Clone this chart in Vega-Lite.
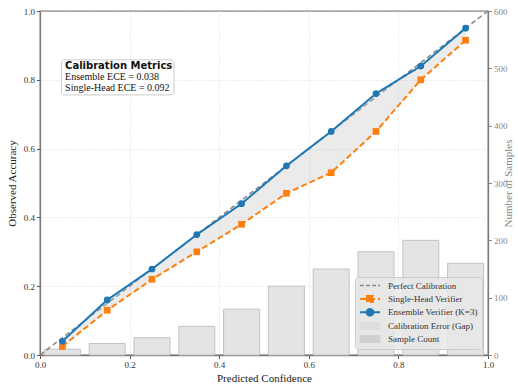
{
  "$schema": "https://vega.github.io/schema/vega-lite/v6.json",
  "width": 448,
  "height": 344,
  "autosize": {"type": "none"},
  "padding": {"left": 40, "top": 11, "right": 30, "bottom": 30},
  "background": "white",
  "config": {
    "font": "Liberation Serif",
    "view": {"stroke": "#7a7a7a", "strokeWidth": 1.3},
    "axis": {
      "labelFont": "Liberation Serif",
      "labelFontSize": 9,
      "labelFlush": false,
      "titleFont": "Liberation Serif",
      "titleFontSize": 11,
      "titleFontWeight": "normal",
      "domainColor": "#7a7a7a",
      "domainWidth": 1.3,
      "tickColor": "#555555",
      "tickSize": 3.5,
      "labelColor": "#333333",
      "titleColor": "#222222",
      "gridColor": "#d0d0d0",
      "gridDash": [1, 2],
      "gridWidth": 0.8
    },
    "legend": {
      "orient": "bottom-right",
      "offset": 6,
      "padding": 4,
      "labelFont": "Liberation Serif",
      "labelFontSize": 9,
      "labelColor": "#333333",
      "fillColor": "rgba(232,232,232,0.85)",
      "strokeColor": "#cccccc",
      "cornerRadius": 3,
      "symbolSize": 49,
      "symbolStrokeWidth": 1.5,
      "clipHeight": 9,
      "rowPadding": 3.4,
      "labelOffset": 20
    }
  },
  "datasets": {
    "calib": [
      {"conf": 0.05, "ensemble": 0.04, "single": 0.025, "count": 10},
      {"conf": 0.15, "ensemble": 0.16, "single": 0.13, "count": 20},
      {"conf": 0.25, "ensemble": 0.25, "single": 0.22, "count": 30},
      {"conf": 0.35, "ensemble": 0.35, "single": 0.30, "count": 50},
      {"conf": 0.45, "ensemble": 0.44, "single": 0.38, "count": 80},
      {"conf": 0.55, "ensemble": 0.55, "single": 0.47, "count": 120},
      {"conf": 0.65, "ensemble": 0.65, "single": 0.53, "count": 150},
      {"conf": 0.75, "ensemble": 0.76, "single": 0.65, "count": 180},
      {"conf": 0.85, "ensemble": 0.84, "single": 0.80, "count": 200},
      {"conf": 0.95, "ensemble": 0.95, "single": 0.915, "count": 160}
    ],
    "diag": [{"p": 0}, {"p": 1}],
    "note": [{"title": "Calibration Metrics", "ens": "Ensemble ECE = 0.038", "single": "Single-Head ECE = 0.092"}]
  },
  "layer": [
    {
      "data": {"name": "calib"},
      "mark": {"type": "bar", "width": 36, "fill": "#e4e4e4", "stroke": "#c2c2c2", "strokeWidth": 1},
      "encoding": {
        "x": {
          "field": "conf", "type": "quantitative",
          "scale": {"domain": [0, 1], "nice": false, "zero": false, "padding": 0},
          "axis": {"title": "Predicted Confidence", "values": [0, 0.2, 0.4, 0.6, 0.8, 1.0], "format": ".1f", "grid": true, "titlePadding": 3, "labelPadding": 2}
        },
        "y": {
          "field": "count", "type": "quantitative",
          "scale": {"domain": [0, 600], "nice": false},
          "axis": {"orient": "right", "title": "Number of Samples", "titleAngle": 270, "values": [0, 100, 200, 300, 400, 500, 600], "grid": false, "labelColor": "#888888", "titleColor": "#888888", "tickColor": "#888888", "titlePadding": 6, "labelPadding": 2}
        }
      }
    },
    {
      "layer": [
        {
          "data": {"name": "diag"},
          "mark": {"type": "line", "stroke": "#888888", "strokeDash": [5, 3], "strokeWidth": 1.5},
          "encoding": {
            "x": {"field": "p", "type": "quantitative"},
            "y": {
              "field": "p", "type": "quantitative",
              "scale": {"domain": [0, 1], "nice": false},
              "axis": {"orient": "left", "title": "Observed Accuracy", "values": [0, 0.2, 0.4, 0.6, 0.8, 1.0], "format": ".1f", "grid": true, "titlePadding": 6, "labelPadding": 2}
            }
          }
        },
        {
          "data": {"name": "calib"},
          "mark": {"type": "area", "fill": "#bdbdbd", "opacity": 0.3},
          "encoding": {
            "x": {"field": "conf", "type": "quantitative"},
            "y": {"field": "single", "type": "quantitative"},
            "y2": {"field": "ensemble"}
          }
        },
        {
          "data": {"name": "calib"},
          "transform": [{"fold": ["single", "ensemble"], "as": ["series", "acc"]}],
          "mark": {"type": "line", "strokeWidth": 2},
          "encoding": {
            "x": {"field": "conf", "type": "quantitative"},
            "y": {"field": "acc", "type": "quantitative"},
            "color": {
              "field": "series", "type": "nominal",
              "scale": {"domain": ["perfect", "single", "ensemble", "gap", "count"], "range": ["#888888", "#ff7f0e", "#1f77b4", "#dedede", "#d0d0d0"]},
              "legend": {
                "title": null,
                "labelExpr": "datum.value == 'perfect' ? 'Perfect Calibration' : datum.value == 'single' ? 'Single-Head Verifier' : datum.value == 'ensemble' ? 'Ensemble Verifier (K=3)' : datum.value == 'gap' ? 'Calibration Error (Gap)' : 'Sample Count'",
                "encode": {
                  "symbols": {
                    "update": {
                      "shape": {"signal": "datum.value == 'single' ? 'M-1,0H4.71M1,-0.857H2.714V0.857H1Z' : datum.value == 'ensemble' ? 'M-1,0H4.71M2.8,0A0.943,0.943,0,1,1,0.914,0A0.943,0.943,0,1,1,2.8,0Z' : datum.value == 'perfect' ? 'M-1,0H4.71' : 'M-1,-1H4.71V1H-1Z'"},
                      "fill": {"signal": "datum.value == 'single' ? '#ff7f0e' : datum.value == 'ensemble' ? '#1f77b4' : datum.value == 'gap' ? '#e2e2e2' : datum.value == 'count' ? '#d3d3d3' : 'transparent'"},
                      "stroke": {"signal": "datum.value == 'single' ? '#ff7f0e' : datum.value == 'ensemble' ? '#1f77b4' : datum.value == 'perfect' ? '#888888' : datum.value == 'count' ? '#b0b0b0' : '#d0d0d0'"},
                      "strokeWidth": {"signal": "datum.value == 'count' || datum.value == 'gap' ? 1 : datum.value == 'perfect' ? 1.5 : 2"},
                      "strokeDash": {"signal": "datum.value == 'single' ? [6, 3] : datum.value == 'perfect' ? [4, 2] : [1, 0]"},
                      "opacity": {"value": 1},
                      "fillOpacity": {"value": 1}
                    }
                  }
                }
              }
            },
            "strokeDash": {
              "field": "series", "type": "nominal",
              "scale": {"domain": ["single", "ensemble"], "range": [[6, 3], [1, 0]]},
              "legend": null
            }
          }
        },
        {
          "data": {"name": "calib"},
          "transform": [{"fold": ["single", "ensemble"], "as": ["series", "acc"]}],
          "mark": {"type": "point", "filled": true, "size": 45, "opacity": 1},
          "encoding": {
            "x": {"field": "conf", "type": "quantitative"},
            "y": {"field": "acc", "type": "quantitative"},
            "color": {"field": "series", "type": "nominal"},
            "shape": {
              "field": "series", "type": "nominal",
              "scale": {"domain": ["single", "ensemble"], "range": ["square", "circle"]},
              "legend": null
            }
          }
        },
        {
          "data": {"name": "note"},
          "mark": {"type": "rect", "fill": "white", "stroke": "#cccccc", "strokeWidth": 1, "cornerRadius": 3},
          "encoding": {
            "x": {"datum": 0.048, "type": "quantitative"},
            "x2": {"datum": 0.299},
            "y": {"datum": 0.756, "type": "quantitative"},
            "y2": {"datum": 0.858}
          }
        },
        {
          "data": {"name": "note"},
          "mark": {"type": "text", "font": "DejaVu Sans", "fontWeight": "bold", "fontSize": 10, "align": "left", "baseline": "middle", "color": "#111111"},
          "encoding": {
            "text": {"field": "title"},
            "x": {"datum": 0.056, "type": "quantitative"},
            "y": {"datum": 0.841, "type": "quantitative"}
          }
        },
        {
          "data": {"name": "note"},
          "mark": {"type": "text", "font": "Liberation Serif", "fontSize": 10, "align": "left", "baseline": "middle", "color": "#111111"},
          "encoding": {
            "text": {"field": "ens"},
            "x": {"datum": 0.056, "type": "quantitative"},
            "y": {"datum": 0.809, "type": "quantitative"}
          }
        },
        {
          "data": {"name": "note"},
          "mark": {"type": "text", "font": "Liberation Serif", "fontSize": 10, "align": "left", "baseline": "middle", "color": "#111111"},
          "encoding": {
            "text": {"field": "single"},
            "x": {"datum": 0.056, "type": "quantitative"},
            "y": {"datum": 0.777, "type": "quantitative"}
          }
        }
      ]
    }
  ],
  "resolve": {"scale": {"y": "independent"}}
}
